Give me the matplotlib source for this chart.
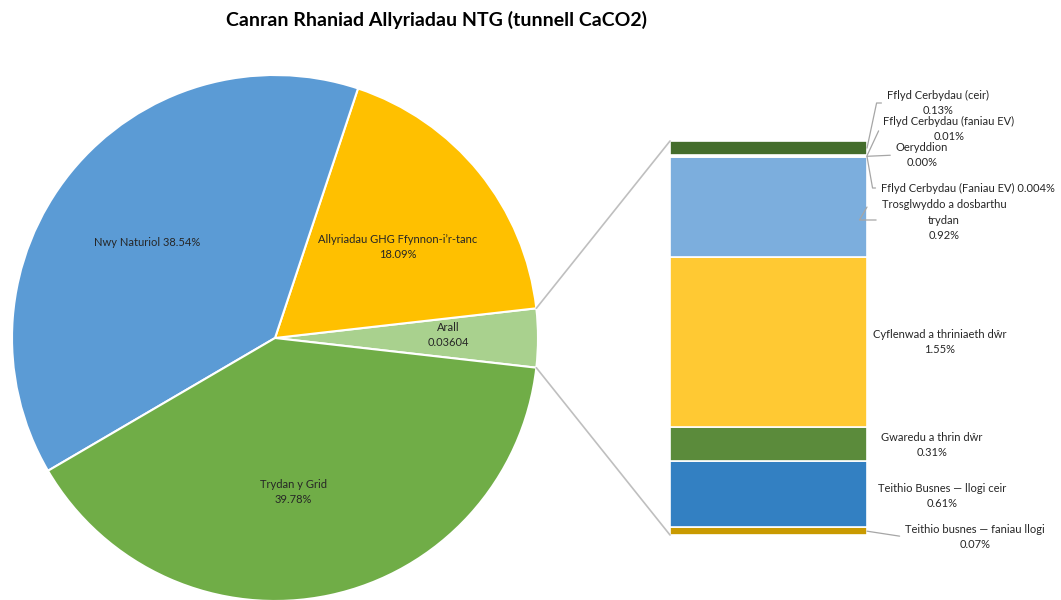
import numpy as np
import matplotlib
matplotlib.use("Agg")
import matplotlib.pyplot as plt
from matplotlib.patches import ConnectionPatch

# ---- data ----
pie_labels = ["Arall", "Allyriadau GHG Ffynnon-i\u2019r-tanc", "Nwy Naturiol", "Trydan y Grid"]
pie_values = [3.604, 18.09, 38.54, 39.78]
pie_texts = ["Arall\n0.03604", "Allyriadau GHG Ffynnon-i\u2019r-tanc\n18.09%",
             "Nwy Naturiol 38.54%", "Trydan y Grid\n39.78%"]
pie_colors = ["#A9D18E", "#FFC000", "#5B9BD5", "#70AD47"]

# bar segments, bottom to top
bar_labels = ["Teithio busnes \u2014 faniau llogi", "Teithio Busnes \u2014 llogi ceir",
              "Gwaredu a thrin d\u0175r", "Cyflenwad a thriniaeth d\u0175r",
              "Trosglwyddo a dosbarthu\ntrydan", "Fflyd Cerbydau (Faniau EV)",
              "Oeryddion", "Fflyd Cerbydau (faniau EV)", "Fflyd Cerbydau (ceir)"]
bar_values = [0.07, 0.61, 0.31, 1.55, 0.92, 0.004, 0.00, 0.01, 0.13]
bar_value_text = ["0.07%", "0.61%", "0.31%", "1.55%", "0.92%", "0.004%", "0.00%", "0.01%", "0.13%"]
bar_colors = ["#C99A00", "#3380C2", "#5B8B3B", "#FFC933", "#7CAEDD",
              "#264478", "#9E480E", "#636363", "#446D2C"]

title = "Canran Rhaniad Allyriadau NTG (tunnell CaCO2)"

W, H = 1061, 600
plt.rcParams['font.family'] = ['Lato', 'DejaVu Sans']
fig = plt.figure(figsize=(W / 100, H / 100), dpi=100)
fig.patch.set_facecolor("white")

def fx(x):
    return x / W

def fy(y):
    return 1 - y / H

TXT = "#262626"
LEAD = "#A6A6A6"
FS = 8

# ---- pie ----
cx, cy, r = 275, 338, 263
axp = fig.add_axes([fx(cx - r), fy(cy + r), 2 * r / W, 2 * r / H])
start = -360 * pie_values[0] / sum(pie_values) / 2
wedges, _ = axp.pie(pie_values, colors=pie_colors, startangle=start, counterclock=True,
                    radius=1, wedgeprops=dict(edgecolor="white", linewidth=1.5))
axp.set_xlim(-1, 1)
axp.set_ylim(-1, 1)
axp.axis("off")

pie_text_pos = [(448, 335), (398, 247), (147, 243), (293, 492)]
for t, (x, y) in zip(pie_texts, pie_text_pos):
    fig.text(fx(x), fy(y), t, ha="center", va="center", fontsize=FS, color=TXT,
             linespacing=1.55)

# ---- bar ----
bl, br, bt, bb = 670, 867, 141, 535
axb = fig.add_axes([fx(bl), fy(bb), (br - bl) / W, (bb - bt) / H])
total = sum(bar_values)
bottoms = np.concatenate([[0], np.cumsum(bar_values)[:-1]])
axb.bar(0, bar_values, bottom=bottoms, width=1.0, color=bar_colors,
        edgecolor="white", linewidth=1.2)
axb.set_xlim(-0.5, 0.5)
axb.set_ylim(0, total)
axb.axis("off")

# connection lines
a = np.deg2rad(360 * pie_values[0] / sum(pie_values) / 2)
for sgn, yb in [(1, total), (-1, 0)]:
    con = ConnectionPatch(xyA=(np.cos(a), sgn * np.sin(a)), coordsA=axp.transData,
                          xyB=(-0.5, yb), coordsB=axb.transData,
                          color="#BFBFBF", linewidth=1.2)
    fig.add_artist(con)

# bar labels: (text center px, leader?, leader angle)
label_pos = {
    0: (975, 537, True, None),
    1: (942, 496, False, 0),
    2: (932, 445, False, 0),
    3: (940, 342, False, 0),
    4: (944, 220, True, 60),
    5: (968, 188, True, -80),
    6: (922, 155, True, None),
    7: (949, 129, True, 65),
    8: (938, 103, True, 78),
}
mids = bottoms + np.array(bar_values) / 2
for i, (lab, vt) in enumerate(zip(bar_labels, bar_value_text)):
    x, y, lead, ang = label_pos[i]
    if i == 5:
        txt = f"{lab} {vt}"
    else:
        txt = f"{lab}\n{vt}"
    if not lead:
        fig.text(fx(x), fy(y), txt, ha="center", va="center", fontsize=FS, color=TXT,
                 linespacing=1.55)
    else:
        if ang is None:
            cs = "arc3"
        else:
            cs = f"angle,angleA=0,angleB={ang},rad=0"
        axb.annotate(txt, xy=(0.5, mids[i]), xycoords="data",
                     xytext=(fx(x), fy(y)), textcoords="figure fraction",
                     ha="center", va="center", fontsize=FS, color=TXT, linespacing=1.55,
                     arrowprops=dict(arrowstyle="-", color=LEAD, lw=0.9,
                                     shrinkA=2, shrinkB=0, relpos=(0, 0.5),
                                     connectionstyle=cs),
                     annotation_clip=False)

fig.text(fx(436), fy(20), title, ha="center", va="center", fontsize=14,
         fontweight="bold", color="#000000")

fig.savefig("out.png", dpi=100, facecolor="white")
